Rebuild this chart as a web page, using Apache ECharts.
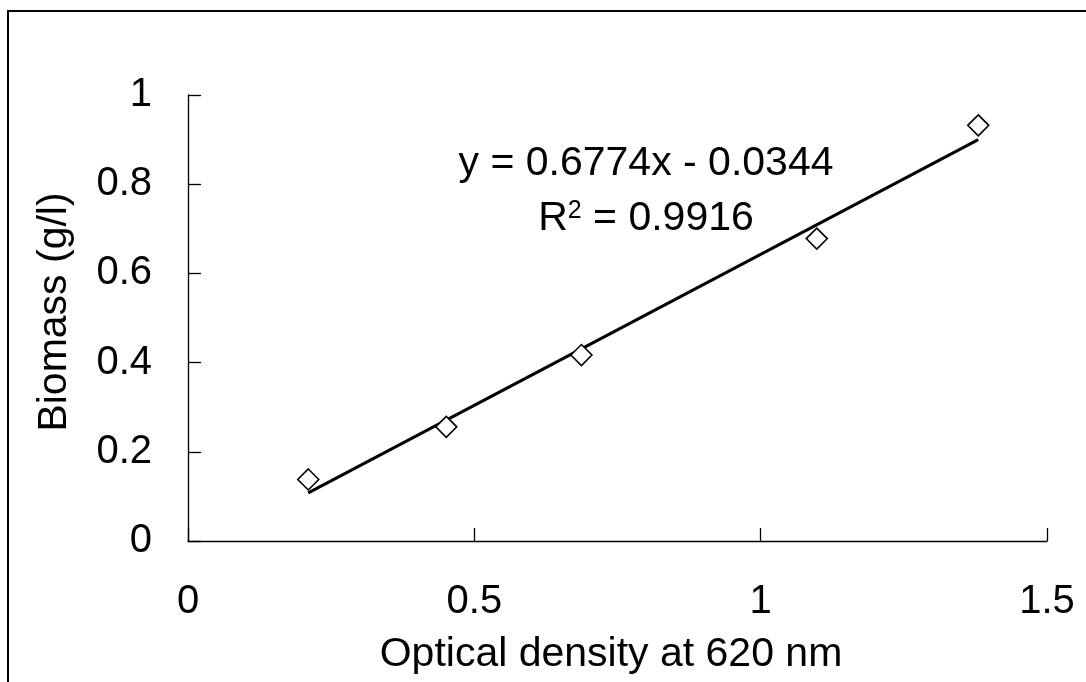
<!DOCTYPE html>
<html>
<head>
<meta charset="utf-8">
<script src="https://cdn.jsdelivr.net/npm/echarts@6/dist/echarts.min.js"></script>
<style>
  html, body { margin: 0; padding: 0; background: #fff; }
  #chart { width: 1086px; height: 682px; }
</style>
</head>
<body>
<div id="chart"></div>
<script>
// measured points (optical density vs biomass)
const odValues = [0.21, 0.451, 0.687, 1.098, 1.38]
const biomassValues = [0.138, 0.256, 0.417, 0.678, 0.932]

// trend line end points
const trendX = [0.21, 1.38]
const trendY = [0.108, 0.9]

const xTicks = [0, 0.5, 1, 1.5]
const yTicks = [0, 0.2, 0.4, 0.6, 0.8, 1]

const equationText = 'y = 0.6774x - 0.0344'
const rSquaredText = '0.9916'

const font = 'Liberation Sans, Arial, sans-serif'

const chart = echarts.init(document.getElementById('chart'))

const option = {
  backgroundColor: '#fff',
  animation: false,
  grid: {
    left: 188,
    right: 39,
    top: 95,
    bottom: 141,
  },
  xAxis: {
    type: 'value',
    min: xTicks[0],
    max: xTicks[xTicks.length - 1],
    interval: 0.5,
    axisLine: { onZero: false, lineStyle: { color: '#000', width: 1.3 } },
    axisTick: { inside: true, length: 13, lineStyle: { color: '#000', width: 1.3 } },
    axisLabel: { color: '#000', fontSize: 40, fontFamily: font, margin: 41 },
    splitLine: { show: false },
  },
  yAxis: {
    type: 'value',
    min: yTicks[0],
    max: yTicks[yTicks.length - 1],
    interval: 0.2,
    axisLine: { show: true, onZero: false, lineStyle: { color: '#000', width: 1.3 } },
    axisTick: { show: true, inside: true, length: 13, lineStyle: { color: '#000', width: 1.3 } },
    axisLabel: { color: '#000', fontSize: 40, fontFamily: font, margin: 36 },
    splitLine: { show: false },
  },
  graphic: [
    {
      type: 'rect',
      shape: { x: 8, y: 11, width: 1200, height: 900 },
      style: { fill: 'none', stroke: '#000', lineWidth: 2 },
      silent: true,
    },
    {
      type: 'text',
      x: 611,
      y: 655,
      style: {
        text: 'Optical density at 620 nm',
        fill: '#000',
        font: '41px ' + font,
        align: 'center',
        verticalAlign: 'middle',
      },
    },
    {
      type: 'text',
      x: 55,
      y: 312,
      rotation: Math.PI / 2,
      style: {
        text: 'Biomass (g/l)',
        fill: '#000',
        font: '41px ' + font,
        align: 'center',
        verticalAlign: 'middle',
      },
    },
    {
      type: 'text',
      x: 646,
      y: 164,
      style: {
        text: equationText,
        fill: '#000',
        font: '41px ' + font,
        align: 'center',
        verticalAlign: 'middle',
      },
    },
    {
      type: 'text',
      x: 646,
      y: 219,
      style: {
        text: '{r|R}{sup|2}{r| = ' + rSquaredText + '}',
        fill: '#000',
        align: 'center',
        verticalAlign: 'middle',
        rich: {
          r: { fontSize: 41, fontFamily: font, color: '#000', verticalAlign: 'bottom' },
          sup: { fontSize: 25, fontFamily: font, color: '#000', verticalAlign: 'top' },
        },
      },
    },
  ],
  series: [
    {
      name: 'trend',
      type: 'line',
      data: trendX.map((x, i) => [x, trendY[i]]),
      symbol: 'none',
      lineStyle: { color: '#000', width: 3 },
      silent: true,
      z: 2,
    },
    {
      name: 'biomass',
      type: 'scatter',
      data: odValues.map((x, i) => [x, biomassValues[i]]),
      symbol: 'diamond',
      symbolSize: 21,
      itemStyle: { color: '#fff', borderColor: '#000', borderWidth: 1.6, opacity: 1 },
      z: 3,
    },
  ],
}

chart.setOption(option)

window.addEventListener('resize', () => chart.resize())
</script>
</body>
</html>
